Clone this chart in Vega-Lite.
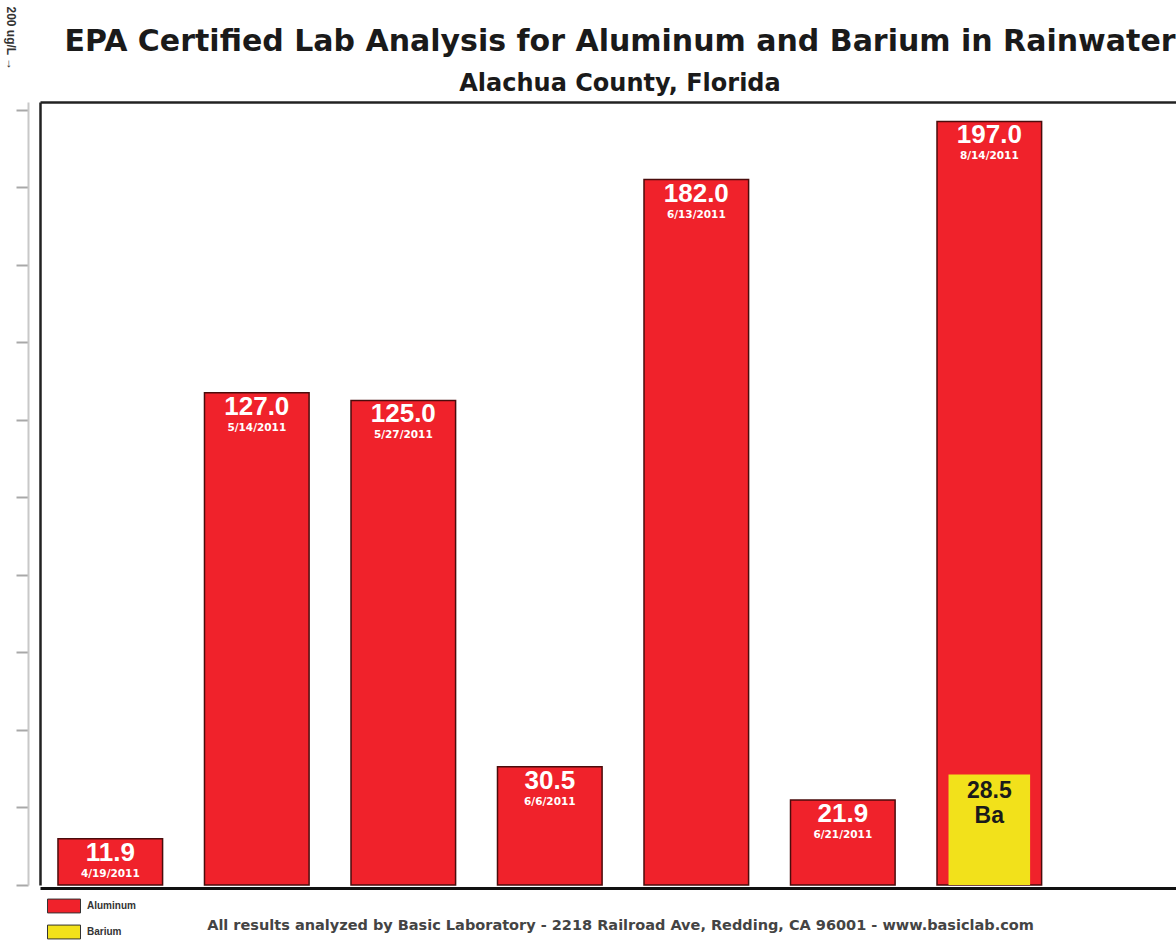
{
  "$schema": "https://vega.github.io/schema/vega-lite/v6.json",
  "autosize": {"type": "none"},
  "width": 1136,
  "height": 783,
  "padding": {"left": 40, "top": 102, "right": 0, "bottom": 60},
  "background": "white",
  "config": {
    "view": {"stroke": null},
    "font": "Liberation Sans"
  },
  "title": {
    "text": "EPA Certified Lab Analysis for Aluminum and Barium in Rainwater",
    "subtitle": "Alachua County, Florida",
    "anchor": "middle",
    "dx": 12,
    "offset": -90,
    "fontSize": 30,
    "fontWeight": "bold",
    "color": "#1a1a1a",
    "subtitleFontSize": 24,
    "subtitleFontWeight": "bold",
    "subtitleColor": "#1a1a1a",
    "subtitlePadding": 15,
    "font": "DejaVu Sans",
    "subtitleFont": "DejaVu Sans"
  },
  "data": {
    "values": [
      {"date": "4/19/2011", "element": "Aluminum", "value": 11.9},
      {"date": "5/14/2011", "element": "Aluminum", "value": 127.0},
      {"date": "5/27/2011", "element": "Aluminum", "value": 125.0},
      {"date": "6/6/2011", "element": "Aluminum", "value": 30.5},
      {"date": "6/13/2011", "element": "Aluminum", "value": 182.0},
      {"date": "6/21/2011", "element": "Aluminum", "value": 21.9},
      {"date": "8/14/2011", "element": "Aluminum", "value": 197.0},
      {"date": "8/14/2011", "element": "Barium", "value": 28.5}
    ]
  },
  "resolve": {"axis": {"x": "independent", "y": "independent"}},
  "layer": [
    {
      "transform": [{"filter": "datum.element === 'Aluminum'"}],
      "mark": {"type": "bar", "stroke": "#4a0c0c", "strokeWidth": 1.5},
      "encoding": {
        "x": {
          "field": "date", "type": "nominal",
          "scale": {"domain": ["4/19/2011", "5/14/2011", "5/27/2011", "6/6/2011", "6/13/2011", "6/21/2011", "8/14/2011"], "paddingInner": 0.286, "paddingOuter": 0.52, "align": 0.118},
          "axis": {
            "orient": "bottom", "labels": false, "ticks": false,
            "domain": true, "domainColor": "#111", "domainWidth": 3, "offset": 3,
            "title": "All results analyzed by Basic Laboratory - 2218 Railroad Ave, Redding, CA  96001 -  www.basiclab.com",
            "titleFont": "DejaVu Sans", "titleFontSize": 14.5, "titleFontWeight": "bold", "titleColor": "#444",
            "titleX": 580, "titleY": 37, "titleAlign": "center", "titleBaseline": "middle"
          }
        },
        "y": {
          "field": "value", "type": "quantitative",
          "scale": {"domain": [0, 202], "nice": false},
          "axis": {
            "orient": "left", "offset": 0, "labels": false, "ticks": false, "grid": false,
            "domain": true, "domainColor": "#222", "domainWidth": 2.5, "title": null
          }
        },
        "color": {
          "field": "element", "type": "nominal",
          "scale": {"domain": ["Aluminum", "Barium"], "range": ["#f0222b", "#f2e11b"]},
          "legend": {
            "orient": "none", "legendX": 7, "legendY": 787, "title": null,
            "padding": 0,
            "symbolType": "M-1,-0.42H1V0.42H-1Z", "symbolSize": 1089,
            "symbolStrokeColor": "#333", "symbolStrokeWidth": 1,
            "labelFontSize": 10, "labelFontWeight": "bold", "labelColor": "#333",
            "rowPadding": -6, "labelOffset": 6
          }
        }
      }
    },
    {
      "transform": [{"filter": "datum.element === 'Barium'"}],
      "mark": {"type": "bar", "width": {"band": 0.78}},
      "encoding": {
        "x": {"field": "date", "type": "nominal", "axis": {
          "orient": "top", "labels": false, "ticks": false, "domain": true,
          "domainColor": "#222", "domainWidth": 2.5, "title": null}},
        "y": {"field": "value", "type": "quantitative", "axis": {
          "orient": "left", "offset": 12, "labels": false, "grid": false,
          "values": [0, 20, 40, 60, 80, 100, 120, 140, 160, 180, 200],
          "domain": true, "domainColor": "#c8c8c8", "domainWidth": 2,
          "ticks": true, "tickColor": "#a8a8a8", "tickWidth": 2, "tickSize": 12,
          "title": "200 ug/L  →", "titleAngle": 90, "titleFontSize": 12, "titleFontWeight": "bold",
          "titleColor": "#333", "titleX": -18, "titleY": -96, "titleAlign": "left", "titleBaseline": "middle"
        }},
        "color": {"field": "element", "type": "nominal"}
      }
    },
    {
      "transform": [{"filter": "datum.element === 'Aluminum'"}],
      "mark": {"type": "text", "color": "white", "fontSize": 26, "fontWeight": "bold", "baseline": "top", "dy": 1},
      "encoding": {
        "x": {"field": "date", "type": "nominal", "axis": null},
        "y": {"field": "value", "type": "quantitative", "axis": null},
        "text": {"field": "value", "type": "quantitative", "format": ".1f"}
      }
    },
    {
      "transform": [{"filter": "datum.element === 'Aluminum'"}],
      "mark": {"type": "text", "color": "white", "font": "DejaVu Sans", "fontSize": 10.5, "fontWeight": "bold", "baseline": "top", "dy": 30},
      "encoding": {
        "x": {"field": "date", "type": "nominal", "axis": null},
        "y": {"field": "value", "type": "quantitative", "axis": null},
        "text": {"field": "date", "type": "nominal"}
      }
    },
    {
      "transform": [{"filter": "datum.element === 'Barium'"}],
      "mark": {"type": "text", "color": "#1a1a1a", "fontSize": 23, "fontWeight": "bold", "baseline": "top", "dy": 5},
      "encoding": {
        "x": {"field": "date", "type": "nominal", "axis": null},
        "y": {"field": "value", "type": "quantitative", "axis": null},
        "text": {"field": "value", "type": "quantitative", "format": ".1f"}
      }
    },
    {
      "transform": [{"filter": "datum.element === 'Barium'"}],
      "mark": {"type": "text", "color": "#1a1a1a", "fontSize": 23, "fontWeight": "bold", "baseline": "top", "dy": 30},
      "encoding": {
        "x": {"field": "date", "type": "nominal", "axis": null},
        "y": {"field": "value", "type": "quantitative", "axis": null},
        "text": {"value": "Ba"}
      }
    }
  ]
}
